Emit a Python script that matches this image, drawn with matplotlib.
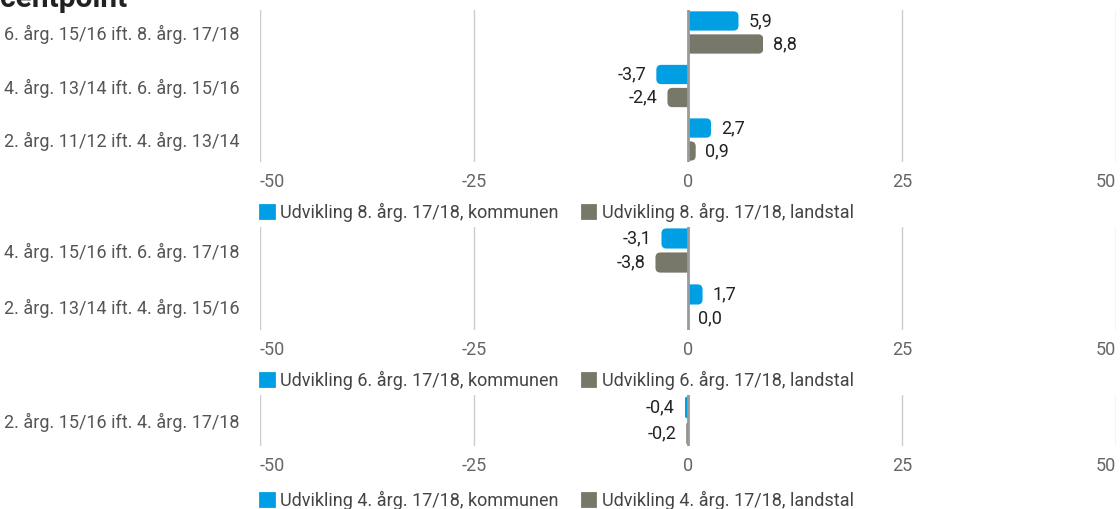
import matplotlib
matplotlib.use("Agg")
import matplotlib.pyplot as plt
from matplotlib.patches import FancyBboxPatch, Rectangle, Patch

plt.rcParams['font.family'] = ['Roboto', 'DejaVu Sans']

# ---------------- data ----------------
title_text = "centpoint"

cats_8 = ["6. årg. 15/16 ift. 8. årg. 17/18",
          "4. årg. 13/14 ift. 6. årg. 15/16",
          "2. årg. 11/12 ift. 4. årg. 13/14"]
kom_8 = [5.9, -3.7, 2.7]
land_8 = [8.8, -2.4, 0.9]
leg_8 = ["Udvikling 8. årg. 17/18, kommunen", "Udvikling 8. årg. 17/18, landstal"]

cats_6 = ["4. årg. 15/16 ift. 6. årg. 17/18",
          "2. årg. 13/14 ift. 4. årg. 15/16"]
kom_6 = [-3.1, 1.7]
land_6 = [-3.8, 0.0]
leg_6 = ["Udvikling 6. årg. 17/18, kommunen", "Udvikling 6. årg. 17/18, landstal"]

cats_4 = ["2. årg. 15/16 ift. 4. årg. 17/18"]
kom_4 = [-0.4]
land_4 = [-0.2]
leg_4 = ["Udvikling 4. årg. 17/18, kommunen", "Udvikling 4. årg. 17/18, landstal"]

x_ticks = [-50, -25, 0, 25, 50]

panels = [(cats_8, kom_8, land_8, leg_8),
          (cats_6, kom_6, land_6, leg_6),
          (cats_4, kom_4, land_4, leg_4)]

# ---------------- style ----------------
BLUE = "#009fe3"
GRAY = "#77776a"
GRID = "#cccccc"
ZERO = "#9a9a9a"
W, H = 1120, 509
DPI = 100
FS = 13

fig = plt.figure(figsize=(W / DPI, H / DPI), dpi=DPI)

# axes rectangles in pixels (left, top, right, bottom)
rects = [(260, 10, 1116, 162), (260, 227, 1116, 330), (260, 395, 1116, 446)]
legend_y = [212, 380, 500]

BAR_H = 0.36
OFF = 0.215
PADY = 0.42
R_PX = 5.0


def rounded_barh(ax, ys, vals, color, sx, sy):
    bars = ax.barh(ys, vals, height=BAR_H, color=color, zorder=3)
    for b in bars:
        x0, y0, wd, ht = b.get_x(), b.get_y(), b.get_width(), b.get_height()
        b.set_visible(False)
        if abs(wd) < 1e-9:
            continue
        sign = 1 if wd > 0 else -1
        rx = min(R_PX / sx, abs(wd))
        # rounded box extended past zero, clipped back to the bar's extent
        start = x0 - sign * rx
        left = min(start, x0 + wd)
        width = abs(wd) + rx
        p = FancyBboxPatch((left, y0), width, ht,
                           boxstyle=f"round,pad=0,rounding_size={rx}",
                           mutation_aspect=sx / sy, facecolor=color,
                           edgecolor="none", zorder=3)
        ax.add_patch(p)
        clip = Rectangle((min(x0, x0 + wd), y0 - 0.1), abs(wd), ht + 0.2,
                         transform=ax.transData)
        p.set_clip_path(clip)


for (cats, kom, land, leg), (l, t, r, b), ly in zip(panels, rects, legend_y):
    ax = fig.add_axes([l / W, 1 - b / H, (r - l) / W, (b - t) / H])
    n = len(cats)
    ys = list(range(n))
    ax.set_xlim(-50, 50)
    ax.set_ylim(n - 1 + PADY, -PADY)
    sx = (r - l) / 100.0
    sy = (b - t) / (n - 1 + 2 * PADY)
    rounded_barh(ax, [y - OFF for y in ys], kom, BLUE, sx, sy)
    rounded_barh(ax, [y + OFF for y in ys], land, GRAY, sx, sy)

    for yy, vals in ((-OFF, kom), (OFF, land)):
        for y, v in zip(ys, vals):
            pos = v >= 0
            ax.annotate(f"{v:.1f}".replace(".", ","),
                        (v, y + yy), xytext=(7 if pos else -7, 0),
                        textcoords="offset points", va="center",
                        ha="left" if pos else "right", fontsize=FS,
                        color="#222222")

    ax.set_xticks(x_ticks)
    ax.set_xticklabels([str(v) for v in x_ticks])
    ax.set_yticks(ys)
    ax.set_yticklabels(cats)
    ax.tick_params(axis="x", length=0, pad=8, labelsize=FS, labelcolor="#666666")
    ax.tick_params(axis="y", length=0, pad=15, labelsize=FS, labelcolor="#555555")
    xl = ax.get_xticklabels()
    xl[0].set_ha("left")
    xl[-1].set_ha("right")
    for s in ax.spines.values():
        s.set_visible(False)
    ax.grid(axis="x", color=GRID, linewidth=1, zorder=0)
    ax.grid(axis="y", visible=False)
    ax.axvline(0, color=ZERO, linewidth=2, zorder=4)
    ax.set_facecolor("none")

    handles = [Patch(facecolor=BLUE, edgecolor=BLUE, linewidth=2, joinstyle="round"),
               Patch(facecolor=GRAY, edgecolor=GRAY, linewidth=2, joinstyle="round")]
    fig.legend(handles, leg, loc="center left",
               bbox_to_anchor=(260 / W, 1 - ly / H), ncol=2, frameon=False,
               fontsize=FS, labelcolor="#444444", handlelength=0.75,
               handleheight=0.75, handletextpad=0.35, columnspacing=1.3,
               borderaxespad=0, borderpad=0)

fig.text(0.0, 1 - 7 / H, title_text, fontsize=21.5, fontweight="bold",
         color="#222222", ha="left", va="baseline")

fig.savefig("out.png", dpi=DPI)
